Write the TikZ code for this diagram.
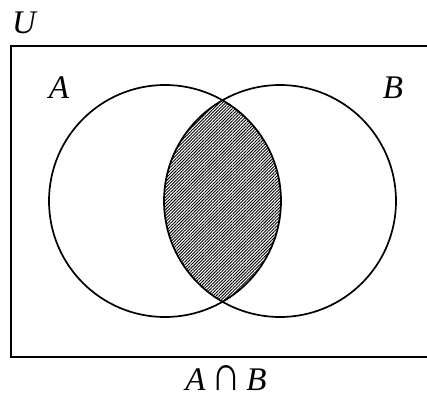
\documentclass[tikz,border=0pt]{standalone}
\usepackage{fontspec}
\setmainfont{Liberation Serif}
\usepackage{tikz}
\usetikzlibrary{patterns.meta}

\begin{document}
\begin{tikzpicture}[
  x=1pt, y=1pt,
  setcircle/.style={draw, circle, line width=1.7pt, minimum size=232pt, inner sep=0pt},
  setlabel/.style={font=\fontsize{33}{36}\selectfont\itshape, inner sep=0pt},
  hatch/.style={pattern={Lines[angle=45, distance=2.2pt, line width=0.9pt]}}
]
  \useasboundingbox (0,0) rectangle (427,400);
  \clip (0,0) rectangle (427,400);

  % universe
  \draw[line width=1.7pt] (11,43) rectangle (440,354);
  \node[setlabel] (U) at (24,377) {U};

  % intersection, hatched
  \begin{scope}
    \clip (165,199) circle (116);
    \fill[hatch] (280,199) circle (116);
  \end{scope}

  \node[setcircle] (A) at (165,199) {};
  \node[setcircle] (B) at (280,199) {};
  \node[setlabel] (labA) at (59,312) {A};
  \node[setlabel] (labB) at (393,312) {B};

  \node[setlabel, anchor=base] (cap) at (226,10) {A\,{\upshape\scalebox{1.25}[1.5]{∩}}\,B};
\end{tikzpicture}
\end{document}
